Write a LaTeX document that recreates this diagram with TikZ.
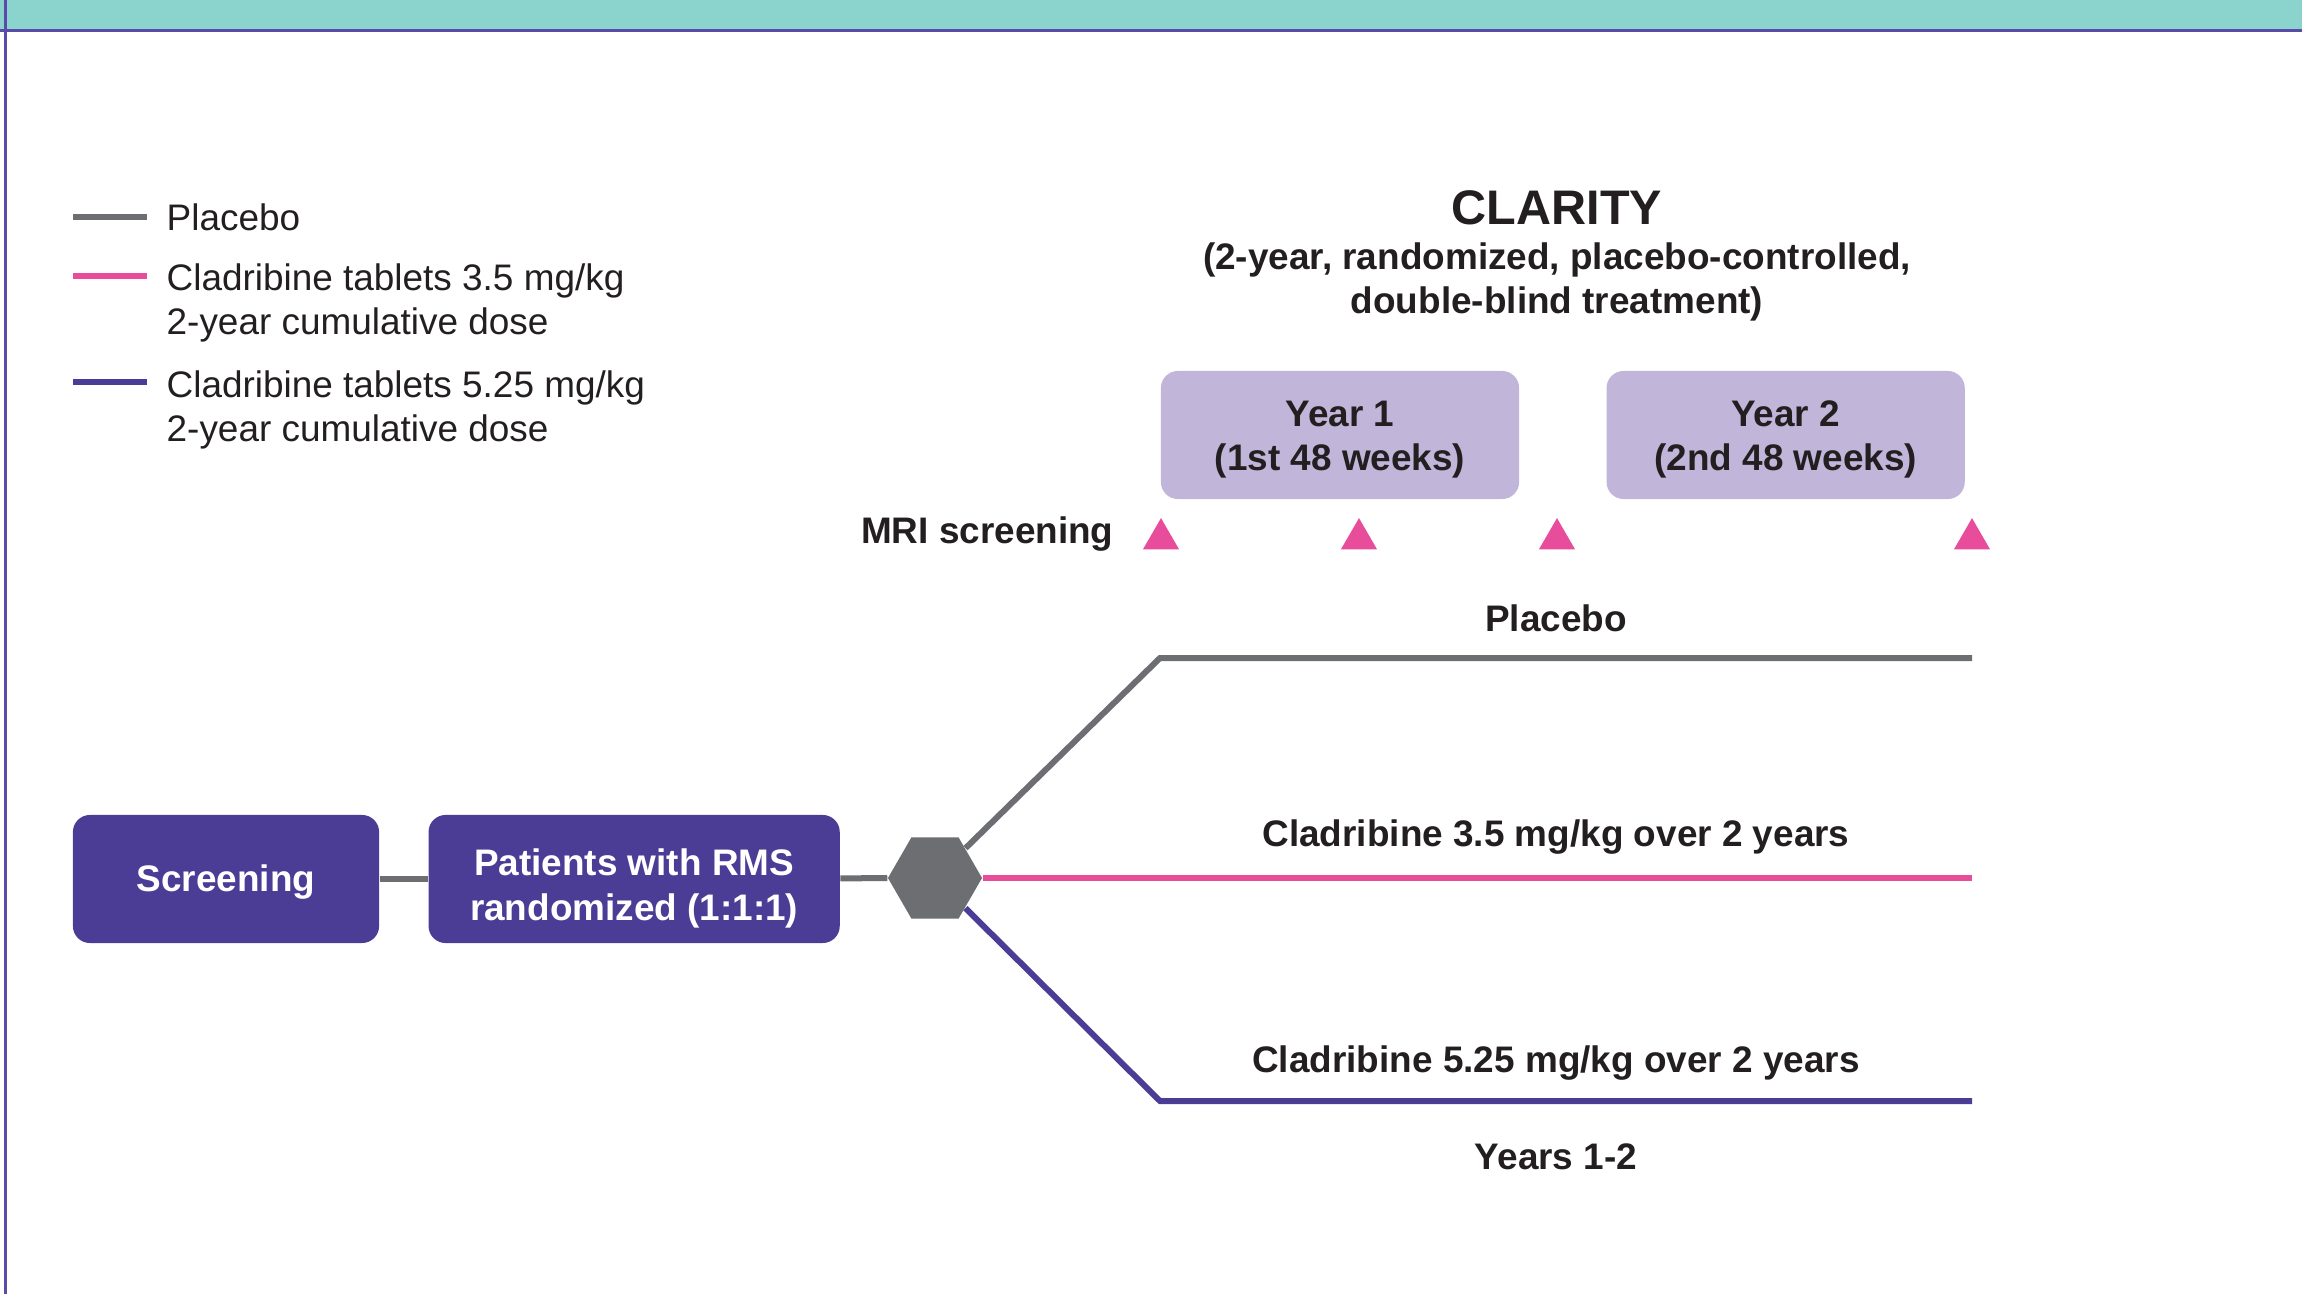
\documentclass[tikz,border=0pt]{standalone}
\usepackage{fontspec}
\setmainfont{Liberation Sans}
\usepackage{xcolor}
\usetikzlibrary{shapes.geometric,positioning}
\definecolor{band}{HTML}{8BD3CD}
\definecolor{frame}{HTML}{5A4BA8}
\definecolor{purp}{HTML}{4B3D96}
\definecolor{lav}{HTML}{C1B5DA}
\definecolor{pinkarm}{HTML}{E84D9B}
\definecolor{grayarm}{HTML}{6D6E71}
\definecolor{ink}{HTML}{231F20}
\begin{document}
\begin{tikzpicture}[x=0.01cm,y=-0.01cm]
        \tikzstyle{box}=[rectangle, rounded corners=0.17cm, fill=purp, minimum height=1.28cm, inner sep=0pt]
        \tikzstyle{yearbox}=[box, fill=lav, minimum width=3.58cm]
        \tikzstyle{lbl}=[font=\bfseries\fontsize{10.5}{12.7}\selectfont, text=ink, align=center]
        \tikzstyle{boxlbl}=[lbl, text=white]
        \tikzstyle{leg}=[font=\fontsize{10.5}{12.7}\selectfont, text=ink, align=left, anchor=west, inner sep=0pt]
        \tikzstyle{arm}=[line width=0.06cm]
        \tikzstyle{mri}=[regular polygon, regular polygon sides=3, fill=pinkarm, minimum size=0.416cm, inner sep=0pt, anchor=south]
        \useasboundingbox (0,0) rectangle (2302,1294);
        % frame
        \fill[band] (0,0) rectangle (2302,29);
        \draw[frame, line width=0.03cm] (0,30.5) -- (2302,30.5);
        \draw[frame, line width=0.027cm] (5.5,0) -- (5.5,1294);
        % legend
        \coordinate (lg1a) at (73,217);  \coordinate (lg1b) at (147,217);
        \coordinate (lg2a) at (73,276);  \coordinate (lg2b) at (147,276);
        \coordinate (lg3a) at (73,382);  \coordinate (lg3b) at (147,382);
        \draw[arm, grayarm] (lg1a) -- (lg1b);
        \draw[arm, pinkarm] (lg2a) -- (lg2b);
        \draw[arm, purp] (lg3a) -- (lg3b);
        \node[leg] (leg1) at (166,217) {Placebo};
        \node[leg] (leg2) at (166,303) {Cladribine tablets 3.5 mg/kg\\2-year cumulative dose};
        \node[leg] (leg3) at (166,410) {Cladribine tablets 5.25 mg/kg\\2-year cumulative dose};
        % study title and years
        \node[lbl, font=\bfseries\fontsize{13.8}{16}\selectfont] (title) at (1557,208) {CLARITY};
        \node[lbl] (sub) at (1557,282) {(2-year, randomized, placebo-controlled,\\double-blind treatment)};
        \node[yearbox] (y1) at (1340,435) [label={[lbl, yshift=-0.045cm]center:Year 1\\(1st 48 weeks)}] {};
        \node[yearbox] (y2) [right=0.86cm of y1, label={[lbl, yshift=-0.045cm]center:Year 2\\(2nd 48 weeks)}] {};
        % MRI
        \node[mri] (m1) at (1161,550) {};
        \node[mri] (m2) at (1359,550) {};
        \node[mri] (m3) at (1557,550) {};
        \node[mri] (m4) at (1972,550) {};
        \node[lbl, anchor=east] (mri) at (1126,534) {MRI screening};
        % flow
        \node[box, minimum width=3.06cm] (scr) at (226,879) [label={[boxlbl, yshift=-0.03cm]center:Screening}] {};
        \node[box, minimum width=4.11cm] (pat) [right=0.48cm of scr, label={[boxlbl, yshift=-0.095cm]center:Patients with RMS\\randomized (1:1:1)}] {};
        \node[regular polygon, regular polygon sides=6, fill=grayarm, minimum size=0.94cm, inner sep=0pt] (hex) at (935,878) {};
        \coordinate (plaA) at (1160,658);  \coordinate (plaB) at (1972,658);
        \coordinate (lowB) at (1972,878);
        \coordinate (higA) at (1160,1101); \coordinate (higB) at (1972,1101);
        \path (scr) edge [arm, grayarm] (pat)
        (pat) edge [arm, grayarm] (hex);
        \draw[arm, grayarm] (hex) -- (plaA) -- (plaB);
        \draw[arm, pinkarm] (hex.east) -- (lowB);
        \draw[arm, purp] (hex) -- (higA) -- (higB);
        \node[lbl] (lpla) at (1556,618) {Placebo};
        \node[lbl] (llow) at (1556,837) {Cladribine 3.5 mg/kg over 2 years};
        \node[lbl] (lhig) at (1556,1063) {Cladribine 5.25 mg/kg over 2 years};
        \node[lbl] (lyrs) at (1556,1157) {Years 1-2};
\end{tikzpicture}
\end{document}
